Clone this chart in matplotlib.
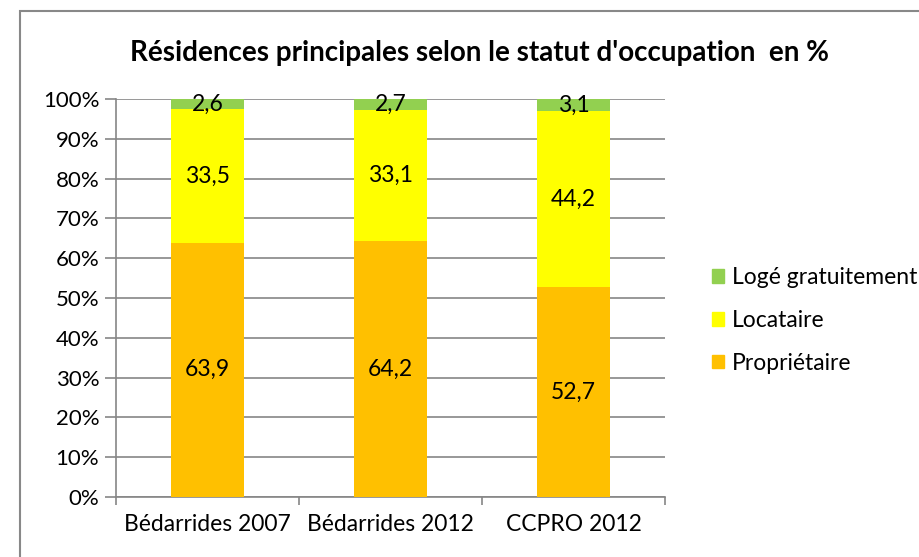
import matplotlib.pyplot as plt
from matplotlib.patches import Patch, Rectangle
from matplotlib.ticker import FixedLocator, NullFormatter

plt.rcParams['font.family'] = ['Lato', 'DejaVu Sans']

categories = ["Bédarrides 2007", "Bédarrides 2012", "CCPRO 2012"]
proprietaire = [63.9, 64.2, 52.7]
locataire = [33.5, 33.1, 44.2]
loge_gratuit = [2.6, 2.7, 3.1]
y_ticks = [0, 10, 20, 30, 40, 50, 60, 70, 80, 90, 100]

colors = {"Propriétaire": "#FFC000", "Locataire": "#FFFF00",
          "Logé gratuitement": "#92D050"}
grid_col = "#868686"


def fmt(v):
    return f"{v:.1f}".replace(".", ",")


def main():
    fig = plt.figure(figsize=(9.19, 5.57), dpi=100)
    ax = fig.add_axes([0.1262, 0.1077, 0.5975, 0.7146])

    x = list(range(len(categories)))
    width = 0.4
    bottom = [0.0] * len(x)
    for name, vals in [("Propriétaire", proprietaire),
                       ("Locataire", locataire),
                       ("Logé gratuitement", loge_gratuit)]:
        ax.bar(x, vals, width, bottom=bottom, color=colors[name],
               zorder=3, label=name)
        for i, v in enumerate(vals):
            ax.text(x[i], bottom[i] + v / 2, fmt(v), ha="center",
                    va="center", fontsize=16.5, zorder=4)
        bottom = [b + v for b, v in zip(bottom, vals)]

    ax.set_xlim(-0.5, len(x) - 0.5)
    ax.set_ylim(0, 100)
    ax.set_yticks(y_ticks)
    ax.set_yticklabels([f"{t}%" for t in y_ticks], fontsize=16)
    ax.yaxis.grid(True, color=grid_col, linewidth=1.2, zorder=0)

    ax.set_xticks(x)
    ax.set_xticklabels(categories, fontsize=16.5)
    ax.xaxis.set_minor_locator(FixedLocator([-0.5, 0.5, 1.5, 2.5]))
    ax.xaxis.set_minor_formatter(NullFormatter())
    ax.tick_params(axis="x", which="major", length=0, pad=12)
    ax.tick_params(axis="x", which="minor", length=6, color=grid_col,
                   width=1.2)
    ax.tick_params(axis="y", length=8, color=grid_col, width=1.2, pad=4)

    for s in ["top", "right"]:
        ax.spines[s].set_visible(False)
    for s in ["left", "bottom"]:
        ax.spines[s].set_color(grid_col)
        ax.spines[s].set_linewidth(1.2)

    fig.text(0.522, 0.905, "Résidences principales selon le statut "
             "d'occupation  en %", ha="center", va="center",
             fontsize=20, fontweight="bold")

    handles = [Patch(color=colors[n]) for n in
               ["Logé gratuitement", "Locataire", "Propriétaire"]]
    fig.legend(handles, ["Logé gratuitement", "Locataire", "Propriétaire"],
               loc="center left", bbox_to_anchor=(0.752, 0.425),
               frameon=False, fontsize=16.5, handlelength=0.55,
               handleheight=0.55, handletextpad=0.35, labelspacing=0.95)

    fig.patches.append(Rectangle((20 / 919, -0.1), 1.2, 1 - 11 / 557 + 0.1,
                                 transform=fig.transFigure, fill=False,
                                 edgecolor="#888888", linewidth=1.5))

    fig.savefig("out.png", dpi=100)


if __name__ == "__main__":
    main()
